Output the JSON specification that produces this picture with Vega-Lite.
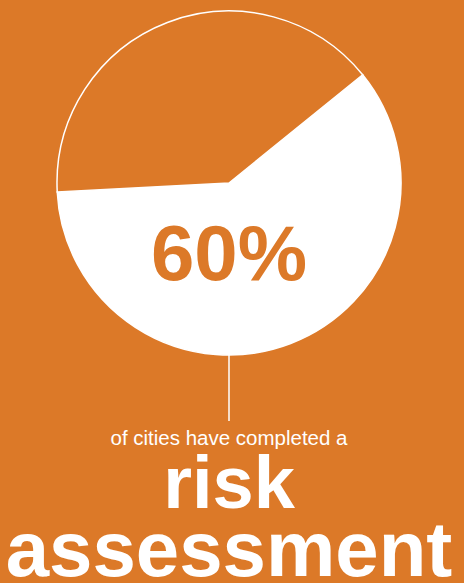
{
  "$schema": "https://vega.github.io/schema/vega-lite/v6.json",
  "background": "#DC7928",
  "padding": {"left": 0, "top": 8, "right": 6, "bottom": 8},
  "bounds": "flush",
  "spacing": 0,
  "config": {"view": {"stroke": null}, "font": "Liberation Sans"},
  "datasets": {
    "shares": [
      {"status": "Completed", "share": 0.6},
      {"status": "Not completed", "share": 0.4}
    ],
    "caption": [
      {"part": "intro", "text": "of cities have completed a"},
      {"part": "keyword1", "text": "risk"},
      {"part": "keyword2", "text": "assessment"}
    ]
  },
  "vconcat": [
    {
      "width": 458,
      "height": 344,
      "data": {"name": "shares"},
      "layer": [
        {
          "mark": {"type": "arc", "outerRadius": 172, "stroke": "#ffffff", "strokeWidth": 1.5},
          "encoding": {
            "theta": {"field": "share", "type": "quantitative", "stack": true, "scale": {"range": [0.89, 7.1732]}},
            "color": {"field": "status", "type": "nominal", "scale": {"domain": ["Completed", "Not completed"], "range": ["#ffffff", "#DC7928"]}, "legend": null},
            "order": {"field": "share", "type": "quantitative", "sort": "descending"}
          }
        },
        {
          "transform": [{"filter": "datum.status === 'Completed'"}],
          "mark": {"type": "text", "fontSize": 78, "fontWeight": "bold", "color": "#DC7928", "baseline": "alphabetic", "dy": 97},
          "encoding": {"text": {"field": "share", "type": "quantitative", "format": ".0%"}}
        }
      ]
    },
    {
      "width": 458,
      "height": 66,
      "data": {"values": [{"connector": "link"}]},
      "mark": {"type": "rule", "color": "#ffffff", "strokeWidth": 1.5},
      "encoding": {"x": {"field": "connector", "type": "nominal", "axis": null}}
    },
    {
      "width": 458,
      "height": 48,
      "data": {"name": "caption"},
      "transform": [{"filter": "datum.part === 'intro'"}],
      "mark": {"type": "text", "fontSize": 20.5, "fontWeight": 300, "color": "#ffffff", "baseline": "alphabetic"},
      "encoding": {"text": {"field": "text", "type": "nominal"}}
    },
    {
      "width": 458,
      "height": 78,
      "data": {"name": "caption"},
      "transform": [{"filter": "datum.part === 'keyword1'"}],
      "mark": {"type": "text", "fontSize": 74, "fontWeight": "bold", "color": "#ffffff", "baseline": "alphabetic"},
      "encoding": {"text": {"field": "text", "type": "nominal"}}
    },
    {
      "width": 458,
      "height": 31,
      "data": {"name": "caption"},
      "transform": [{"filter": "datum.part === 'keyword2'"}],
      "mark": {"type": "text", "fontSize": 78, "fontWeight": "bold", "color": "#ffffff", "baseline": "alphabetic", "dy": 13.5},
      "encoding": {"text": {"field": "text", "type": "nominal"}}
    }
  ]
}
